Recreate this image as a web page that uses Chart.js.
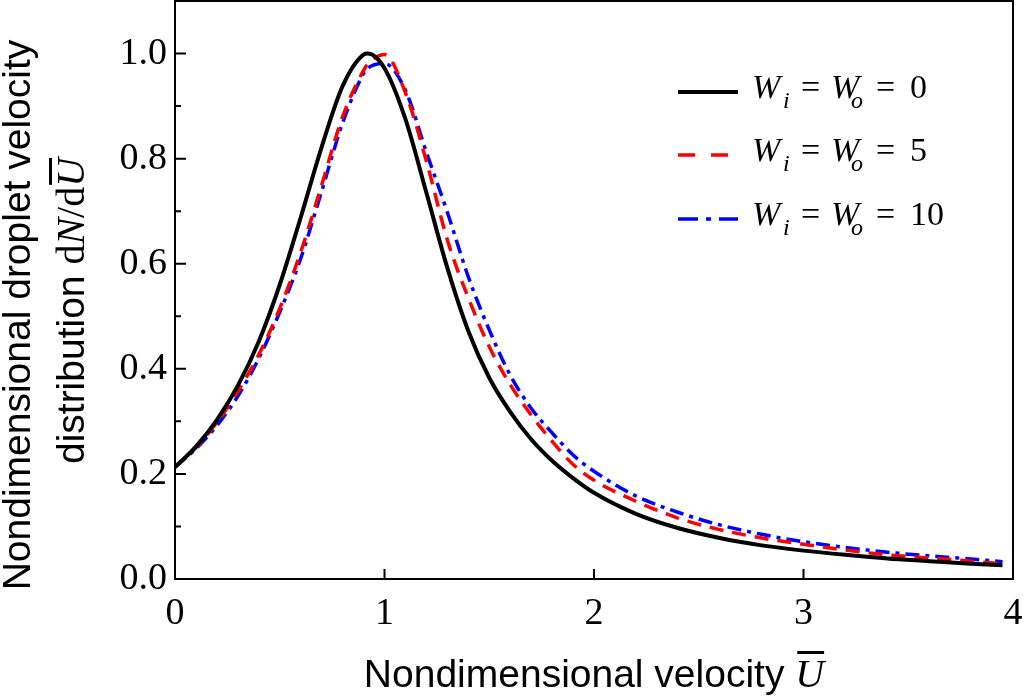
<!DOCTYPE html>
<html>
<head>
<meta charset="utf-8">
<script src="https://cdn.jsdelivr.net/npm/chart.js@4"></script>
<style>
  html, body { margin: 0; padding: 0; background: #fff; }
  canvas { display: block; }
</style>
</head>
<body>
<canvas id="velChart" width="1024" height="696"></canvas>
<script>
// nondimensional velocity (x) and distribution values
const velocity = [0, 0.1, 0.2, 0.3, 0.4, 0.5, 0.6, 0.7, 0.8, 0.9, 0.92, 1.0, 1.1, 1.2, 1.3, 1.4, 1.5, 1.6,
    1.7, 1.8, 1.9, 2.0, 2.2, 2.4, 2.6, 2.8, 3.0, 3.2, 3.4, 3.6, 3.8, 3.95];
const we0 = [0.213, 0.252, 0.303, 0.368, 0.452, 0.560, 0.688, 0.822, 0.938, 0.998, 1.000, 0.972, 0.875, 0.735,
    0.592, 0.472, 0.383, 0.318, 0.266, 0.225, 0.192, 0.164, 0.124, 0.097, 0.078, 0.064, 0.054, 0.046, 0.039,
    0.034, 0.029, 0.026];
const we5 = [0.213, 0.250, 0.298, 0.357, 0.427, 0.515, 0.622, 0.750, 0.880, 0.968, 0.980, 0.998, 0.925, 0.795,
    0.645, 0.535, 0.442, 0.370, 0.312, 0.262, 0.218, 0.188, 0.148, 0.116, 0.094, 0.078, 0.066, 0.055, 0.046,
    0.040, 0.034, 0.029];
const we10 = [0.213, 0.248, 0.292, 0.348, 0.420, 0.508, 0.610, 0.738, 0.868, 0.962, 0.972, 0.981, 0.930, 0.812,
    0.698, 0.575, 0.474, 0.388, 0.325, 0.278, 0.236, 0.205, 0.158, 0.127, 0.103, 0.085, 0.071, 0.060, 0.051,
    0.044, 0.038, 0.033];

const legendValues = ['0', '5', '10'];
const xMajor = [1, 2, 3];
const yMajor = [0.2, 0.4, 0.6, 0.8, 1.0];
const yMinor = [0.1, 0.3, 0.5, 0.7, 0.9];

const SANS = '"Liberation Sans", Arial, sans-serif';
const SERIF = '"Liberation Serif", "Times New Roman", serif';

function toPoints(values) {
    return velocity.map((v, i) => ({ x: v, y: values[i] }));
}

// draw a row of text pieces with different fonts, returns end x
function drawRuns(ctx, x, y, runs) {
    runs.forEach(r => {
        ctx.font = r.font;
        ctx.fillText(r.t, x, y + (r.dy || 0));
        x += ctx.measureText(r.t).width;
    });
    return x;
}

function runsWidth(ctx, runs) {
    let w = 0;
    runs.forEach(r => {
        ctx.font = r.font;
        w += ctx.measureText(r.t).width;
    });
    return w;
}

function noPad(s) {
    s.paddingTop = 0;
    s.paddingBottom = 0;
    s.paddingLeft = 0;
    s.paddingRight = 0;
}

/*------------------frame, inward ticks, titles and legend------------------------*/
const decorPlugin = {
    id: 'decor',
    afterDraw(chart) {
        const ctx = chart.ctx;
        const area = chart.chartArea;
        const xs = chart.scales.x;
        const ys = chart.scales.y;
        ctx.save();
        ctx.strokeStyle = '#000';
        ctx.fillStyle = '#000';
        ctx.lineWidth = 2;
        ctx.setLineDash([]);
        ctx.strokeRect(area.left, area.top, area.right - area.left, area.bottom - area.top);

        ctx.beginPath();
        xMajor.forEach(v => {
            const px = xs.getPixelForValue(v);
            ctx.moveTo(px, area.bottom);
            ctx.lineTo(px, area.bottom - 10);
        });
        yMajor.forEach(v => {
            const py = ys.getPixelForValue(v);
            ctx.moveTo(area.left, py);
            ctx.lineTo(area.left + 11, py);
        });
        yMinor.forEach(v => {
            const py = ys.getPixelForValue(v);
            ctx.moveTo(area.left, py);
            ctx.lineTo(area.left + 6, py);
        });
        ctx.stroke();

        // x axis title
        ctx.textBaseline = 'alphabetic';
        ctx.textAlign = 'left';
        const xRuns = [
            { t: 'Nondimensional velocity ', font: '39px ' + SANS },
            { t: 'U', font: 'italic 40px ' + SERIF }
        ];
        const xw = runsWidth(ctx, xRuns);
        let sx = (area.left + area.right) / 2 - xw / 2;
        const endX = drawRuns(ctx, sx, 687, xRuns);
        ctx.font = 'italic 40px ' + SERIF;
        const uw = ctx.measureText('U').width;
        ctx.fillRect(endX - uw + 2, 651, uw - 2, 3);

        // y axis title, two lines
        const line1 = [{ t: 'Nondimensional droplet velocity', font: '39px ' + SANS }];
        const line2 = [
            { t: 'distribution ', font: '39px ' + SANS },
            { t: 'd', font: '40px ' + SERIF },
            { t: 'N', font: 'italic 40px ' + SERIF },
            { t: '/d', font: '40px ' + SERIF },
            { t: 'U', font: 'italic 40px ' + SERIF }
        ];
        ctx.save();
        ctx.translate(30, 315);
        ctx.rotate(-Math.PI / 2);
        drawRuns(ctx, -runsWidth(ctx, line1) / 2, 0, line1);
        ctx.restore();
        ctx.save();
        ctx.translate(84, 311);
        ctx.rotate(-Math.PI / 2);
        const w2 = runsWidth(ctx, line2);
        const e2 = drawRuns(ctx, -w2 / 2, 0, line2);
        ctx.font = 'italic 40px ' + SERIF;
        const uw2 = ctx.measureText('U').width;
        ctx.fillRect(e2 - uw2 + 2, -35, uw2 - 2, 3);
        ctx.restore();

        // legend: sample line, then W_i = W_o = value with subscripts
        const rowY = [92, 155, 219];
        const big = '34px ' + SERIF;
        const bigIt = 'italic 34px ' + SERIF;
        const subIt = 'italic 24px ' + SERIF;
        chart.data.datasets.forEach((ds, i) => {
            const y = rowY[i];
            ctx.beginPath();
            ctx.strokeStyle = ds.borderColor;
            ctx.lineWidth = ds.borderWidth;
            ctx.lineCap = 'butt';
            ctx.setLineDash(i === 1 ? [17, 16] : (i === 2 ? [20, 8, 5, 8] : []));
            ctx.moveTo(678, y);
            ctx.lineTo(738, y);
            ctx.stroke();
            ctx.setLineDash([]);
            const base = y + 6;
            ctx.font = bigIt; ctx.fillText('W', 752, base);
            ctx.font = subIt; ctx.fillText('i', 783, base + 10);
            ctx.font = big; ctx.fillText('=', 801, base);
            ctx.font = bigIt; ctx.fillText('W', 831, base);
            ctx.font = subIt; ctx.fillText('o', 851, base + 10);
            ctx.font = big; ctx.fillText('=', 876, base);
            ctx.font = big; ctx.fillText(legendValues[i], 910, base);
        });
        ctx.restore();
    }
};

const ctx = document.getElementById('velChart').getContext('2d');
new Chart(ctx, {
    type: 'line',
    data: {
        datasets: [{
            label: 'Wi = Wo = 0',
            data: toPoints(we0),
            borderColor: '#000000',
            borderWidth: 4,
            pointRadius: 0,
            fill: false,
            cubicInterpolationMode: 'monotone'
        }, {
            label: 'Wi = Wo = 5',
            data: toPoints(we5),
            borderColor: '#ff0000',
            borderWidth: 3.5,
            borderDash: [14, 9],
            pointRadius: 0,
            fill: false,
            cubicInterpolationMode: 'monotone'
        }, {
            label: 'Wi = Wo = 10',
            data: toPoints(we10),
            borderColor: '#0000ff',
            borderWidth: 3.5,
            borderDash: [14, 6, 4, 6],
            pointRadius: 0,
            fill: false,
            cubicInterpolationMode: 'monotone'
        }]
    },
    options: {
        responsive: false,
        animation: false,
        devicePixelRatio: 1,
        layout: {
            autoPadding: false,
            padding: { left: 0, right: 11, top: 1, bottom: 0 }
        },
        plugins: {
            legend: { display: false },
            tooltip: { enabled: false }
        },
        scales: {
            x: {
                type: 'linear',
                min: 0,
                max: 4,
                afterFit: s => { s.height = 117; noPad(s); },
                grid: { display: false, drawTicks: false },
                border: { display: false },
                ticks: {
                    stepSize: 1,
                    padding: 12,
                    color: '#000',
                    font: { family: SERIF, size: 38 },
                    maxRotation: 0
                }
            },
            y: {
                min: 0,
                max: 1.1,
                afterFit: s => { s.width = 175; noPad(s); },
                grid: { display: false, drawTicks: false },
                border: { display: false },
                ticks: {
                    stepSize: 0.2,
                    includeBounds: false,
                    padding: 8,
                    color: '#000',
                    font: { family: SERIF, size: 38 },
                    callback: v => v.toFixed(1)
                }
            }
        }
    },
    plugins: [decorPlugin]
});
</script>
</body>
</html>
